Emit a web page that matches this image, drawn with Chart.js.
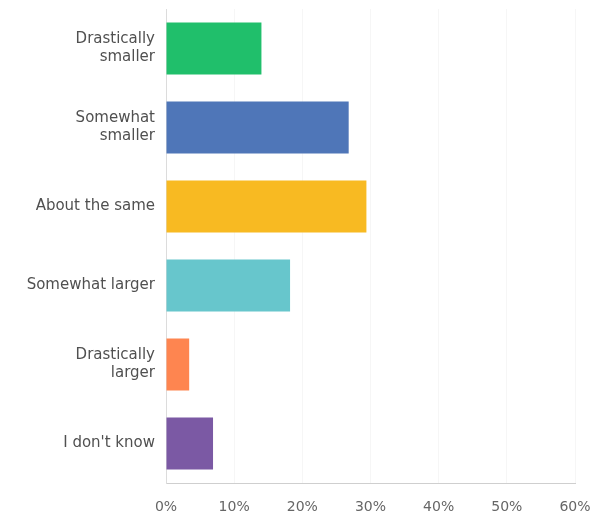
<!DOCTYPE html>
<html>
<head>
<meta charset="utf-8">
<script src="https://cdn.jsdelivr.net/npm/chart.js@4/dist/chart.umd.min.js"></script>
<style>
html,body{margin:0;padding:0;background:#fff;}
#wrap{width:597px;height:517px;position:relative;}
</style>
</head>
<body>
<div id="wrap"><canvas id="c" width="597" height="517"></canvas></div>
<script>
const categories = [["Drastically","smaller"],["Somewhat","smaller"],"About the same","Somewhat larger",["Drastically","larger"],"I don't know"];
const values = [14.0, 26.8, 29.4, 18.2, 3.4, 6.9];
const barColors = ["#20bf6b","#4f76b8","#f8ba22","#67c6cc","#fe8550","#7b59a4"];
const xTicks = [0,10,20,30,40,50,60];

new Chart(document.getElementById('c'), {
  type: 'bar',
  data: {
    labels: categories,
    datasets: [{
      data: values,
      backgroundColor: barColors,
      borderWidth: 0,
      barPercentage: 0.66,
      categoryPercentage: 1.0
    }]
  },
  options: {
    indexAxis: 'y',
    responsive: false,
    animation: false,
    devicePixelRatio: 1,
    layout: { padding: { top: 9, right: 22, bottom: 0, left: 0 } },
    plugins: { legend: { display: false }, tooltip: { enabled: false } },
    scales: {
      x: {
        min: 0, max: 60,
        afterBuildTicks: (s) => { s.ticks = xTicks.map(v => ({ value: v })); },
        afterFit: (s) => { s.height = 34; s.paddingRight = 0; s.paddingLeft = 0; },
        border: { display: true, color: '#cfcfcf', width: 1 },
        grid: { color: 'rgba(0,0,0,0.035)', drawTicks: false },
        ticks: {
          padding: 16,
          color: '#666666',
          font: { family: 'DejaVu Sans', size: 14 },
          callback: (v) => v + '%'
        }
      },
      y: {
        afterFit: (s) => { s.width = 166; s.paddingTop = 0; s.paddingBottom = 0; },
        border: { display: true, color: '#dcdcdc', width: 1 },
        grid: { display: false, drawTicks: false },
        ticks: {
          padding: 11,
          color: '#505050',
          font: { family: 'DejaVu Sans', size: 15, lineHeight: 1.2 }
        }
      }
    }
  }
});
</script>
</body>
</html>
